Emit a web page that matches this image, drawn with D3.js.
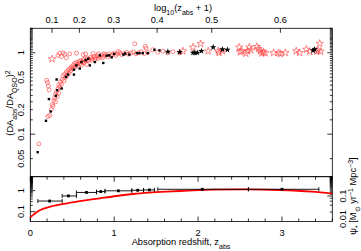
<!DOCTYPE html>
<html><head><meta charset="utf-8">
<script src="https://cdn.jsdelivr.net/npm/d3@7"></script>
<style>
html,body{margin:0;padding:0;background:#fff;}
svg{display:block;font-family:"Liberation Sans",Arial,Helvetica,sans-serif;}
</style></head>
<body>
<svg id="c" width="361" height="251"></svg>
<script>
// ---------- DATA ----------
const redCircles = [
 [0.103,0.076],[0.21,0.165],[0.195,0.46],[0.205,0.43],[0.215,0.39],[0.225,0.35],
 [0.23,0.17],[0.25,0.2],[0.26,0.23],[0.27,0.22],[0.28,0.26],[0.29,0.28],[0.30,0.25],[0.30,0.31],[0.31,0.33],[0.32,0.29],[0.33,0.36],[0.34,0.32],[0.34,0.4],[0.35,0.38],
 [0.36,0.44],[0.37,0.41],[0.38,0.47],[0.39,0.52],[0.40,0.45],[0.41,0.55],[0.42,0.5],[0.43,0.58],[0.44,0.53],[0.45,0.61],[0.46,0.56],[0.47,0.64],[0.48,0.6],[0.49,0.67],[0.50,0.63],
 [0.51,0.7],[0.52,0.66],[0.53,0.74],[0.54,0.69],[0.55,0.76],[0.56,0.72],[0.57,0.68],[0.58,0.78],[0.59,0.74],[0.60,0.8],[0.61,0.71],[0.62,0.77],[0.63,0.82],[0.64,0.75],[0.65,0.84],[0.66,0.79],[0.67,0.72],[0.68,0.86],[0.69,0.8],[0.70,0.83],
 [0.72,0.88],[0.73,0.81],[0.74,0.85],[0.76,0.9],[0.77,0.83],[0.78,0.87],[0.80,0.92],[0.81,0.85],[0.83,0.89],[0.85,0.94],[0.86,0.87],[0.88,0.91],[0.90,0.95],[0.92,0.89],[0.94,0.97],[0.96,0.92],[0.98,0.95],
 [1.00,0.99],[1.02,0.93],[1.04,0.97],[1.07,1.0],[1.09,0.95],[1.12,0.98],[1.15,1.01],[1.17,0.96],[1.20,0.99],[1.23,1.02],[1.26,0.97],[1.29,1.0],[1.32,1.03],[1.36,0.98],[1.40,1.01],
 [0.33,0.93],[0.35,0.99],[0.37,0.9],[0.39,1.0],[0.41,0.96],[0.43,0.87],[0.47,0.97],[0.55,0.99],[0.63,0.95],[0.66,0.97],[0.75,0.98],[0.81,0.97],[0.88,0.97],[1.05,1.04],
 [1.245,1.29],[1.37,1.2],[1.38,1.14],[1.46,1.09],[1.52,1.02],[1.58,1.05],[1.64,1.0],[1.70,1.03],[1.78,1.0]
];
const blackDots = [
 [0.088,0.06],[0.187,0.146],[0.243,0.19],[0.222,0.27],[0.305,0.296],[0.32,0.347],[0.314,0.47],[0.373,0.364],
 [0.425,0.504],[0.45,0.54],[0.52,0.54],[0.52,0.62],[0.55,0.70],[0.59,0.64],[0.61,0.77],[0.66,0.81],[0.69,0.845],
 [0.71,0.70],[0.77,0.77],[0.83,0.93],[0.87,0.75],[0.91,0.92],[0.94,0.93],[0.97,0.88],[1.0,0.97],[1.11,0.95],
 [1.13,0.98],[1.18,0.95],[1.27,0.99],[1.30,0.99],[1.34,0.99],[1.40,0.99],[1.48,1.09],[1.54,1.07]
];
const blackStars = [
 [1.64,1.03],[1.78,1.02],[1.94,1.0],[1.96,1.0],[1.99,1.0],[2.04,1.05],[2.18,1.17],[2.29,1.1],[2.35,1.09],[3.37,1.07],[3.39,1.1]
];
const redStars = [
 [0.26,0.84],[1.82,1.05],[1.94,1.17],[2.03,1.29],[2.12,1.05],[2.24,1.05],[2.25,1.0],[2.29,1.05],
 [2.49,1.17],[2.50,1.02],[2.52,1.05],[2.57,0.98],[2.59,1.05],[2.61,1.17],[2.63,1.08],[2.70,1.19],
 [2.72,1.12],[2.74,1.05],[2.76,0.99],[2.78,1.02],[2.80,0.99],[2.90,1.0],[2.96,1.0],[2.98,0.97],
 [3.04,1.0],[3.17,1.05],[3.21,1.0],[3.29,1.1],[3.33,1.03],[3.41,1.04],[3.43,1.07],[3.45,1.3],[3.46,1.04]
];
// binned points (bottom panel, left axis)
const binZ  = [0.23, 0.455, 0.67, 0.84, 1.05, 1.28, 1.42, 2.05, 3.0];
const binLo = [0.09, 0.38, 0.55, 0.79, 0.89, 1.21, 1.35, 1.52, 2.60];
const binHi = [0.38, 0.55, 0.79, 0.89, 1.21, 1.35, 1.48, 2.60, 3.44];
const binV  = [0.32, 0.56, 0.82, 0.9, 0.98, 1.04, 1.08, 1.16, 1.16];
// star-formation curve (bottom panel, right axis)
const sfrZ = [0, 0.02, 0.04, 0.08, 0.12, 0.24, 0.44, 0.63, 0.83, 1.03, 1.23, 1.42, 1.62, 1.78, 2.17, 2.57, 2.97, 3.36, 3.6];
const sfrV = [0.0119, 0.0137, 0.0158, 0.020, 0.0246, 0.0342, 0.0481, 0.0625, 0.0793, 0.100, 0.122, 0.139, 0.154, 0.165, 0.188, 0.194, 0.182, 0.154, 0.128];
// tick labels
const xTickLabels = [0, 1, 2, 3];
const topTickLabels = [0.1, 0.2, 0.3, 0.4, 0.5, 0.6];
const yTopLabels = [1, 0.5, 0.2, 0.1, 0.05];
const yBotLabels = [1, 0.1];
const yRightLabels = [0.01, 0.1];

// ---------- LAYOUT ----------
const L = 30.3, R = 332.3, T = 28.3, M = 176.7, B = 221.5;
const svg = d3.select("#c");
const x = d3.scaleLinear().domain([0, 3.6]).range([L, R]);
const yT = d3.scaleLog().domain([0.03, 2]).range([M, T]);
const yBL = d3.scaleLog().domain([0.034, 4.6]).range([B, M]);
const yBR = d3.scaleLog().domain([0.0078, 0.69]).range([B, M]);
const ink = "#000";
const fs = 9.3;

function minorLog(scale){
  const [a,b] = scale.domain();
  return scale.ticks(40).filter(v => v >= a*0.999 && v <= b*1.001);
}
function isMajor(v){ const l = Math.log10(v); return Math.abs(l - Math.round(l)) < 1e-6; }

const g = svg.append("g").attr("stroke", ink).attr("stroke-width", 0.8).attr("fill", "none");

// ---------- TOP PANEL DATA ----------
const pts = svg.append("g");
pts.selectAll("circle.rc").data(redCircles).join("circle")
  .attr("cx", d => x(d[0])).attr("cy", d => yT(d[1])).attr("r", 2.0)
  .attr("fill", "none").attr("stroke", "#ff3b3b").attr("stroke-width", 0.6);
const star = d3.symbol().type(d3.symbolStar).size(17);
pts.selectAll("path.rs").data(redStars).join("path")
  .attr("transform", d => `translate(${x(d[0])},${yT(d[1])})`)
  .attr("d", star).attr("fill", "none").attr("stroke", "#ff3b3b").attr("stroke-width", 0.6);
pts.selectAll("rect.bd").data(blackDots).join("rect")
  .attr("x", d => x(d[0]) - 1.2).attr("y", d => yT(d[1]) - 1.2).attr("width", 2.4).attr("height", 2.4)
  .attr("fill", "#000");
pts.selectAll("path.bs").data(blackStars).join("path")
  .attr("transform", d => `translate(${x(d[0])},${yT(d[1])})`)
  .attr("d", d3.symbol().type(d3.symbolStar).size(13)).attr("fill", "#000");

// ---------- BOTTOM PANEL DATA ----------
const line = d3.line().x(d => x(d[0])).y(d => yBR(d[1])).curve(d3.curveMonotoneX);
svg.append("path").datum(sfrZ.map((z,i) => [z, sfrV[i]]))
  .attr("d", line).attr("fill", "none").attr("stroke", "#ff0000").attr("stroke-width", 1.8);
const bins = binZ.map((z,i) => ({z, lo: binLo[i], hi: binHi[i], v: binV[i]}));
const eb = svg.append("g").attr("stroke", "#000").attr("stroke-width", 0.9);
bins.forEach(b => {
  const yy = yBL(b.v);
  eb.append("line").attr("x1", x(b.lo)).attr("x2", x(b.hi)).attr("y1", yy).attr("y2", yy);
  eb.append("line").attr("x1", x(b.lo)).attr("x2", x(b.lo)).attr("y1", yy-2).attr("y2", yy+2);
  eb.append("line").attr("x1", x(b.hi)).attr("x2", x(b.hi)).attr("y1", yy-2).attr("y2", yy+2);
  eb.append("rect").attr("x", x(b.z)-1.4).attr("y", yy-1.4).attr("width", 2.8).attr("height", 2.8).attr("fill", "#000").attr("stroke", "none");
});

// ---------- FRAMES ----------
g.append("rect").attr("x", L).attr("y", T).attr("width", R-L).attr("height", M-T);
g.append("rect").attr("x", L).attr("y", M).attr("width", R-L).attr("height", B-M);

// ---------- TICKS ----------
topTickLabels.forEach(t => {
  const xx = x(Math.pow(10, t) - 1);
  g.append("line").attr("x1", xx).attr("x2", xx).attr("y1", T).attr("y2", T+4.5);
});
d3.range(0, 3.61, 0.2).forEach(v => {
  const xx = x(v), maj = Math.abs(v - Math.round(v)) < 1e-6;
  const len = maj ? 5 : 3;
  g.append("line").attr("x1", xx).attr("x2", xx).attr("y1", B).attr("y2", B-len);
  g.append("line").attr("x1", xx).attr("x2", xx).attr("y1", M).attr("y2", M+len);
});
minorLog(yT).forEach(v => {
  const yy = yT(v), len = isMajor(v) ? 5 : 2.5;
  g.append("line").attr("x1", L).attr("x2", L+len).attr("y1", yy).attr("y2", yy);
  g.append("line").attr("x1", R).attr("x2", R-len).attr("y1", yy).attr("y2", yy);
});
minorLog(yBL).forEach(v => {
  const yy = yBL(v), len = isMajor(v) ? 5 : 2.5;
  g.append("line").attr("x1", L).attr("x2", L+len).attr("y1", yy).attr("y2", yy);
});
minorLog(yBR).forEach(v => {
  const yy = yBR(v), len = isMajor(v) ? 5 : 2.5;
  g.append("line").attr("x1", R).attr("x2", R-len).attr("y1", yy).attr("y2", yy);
});

// ---------- LABELS ----------
const txt = svg.append("g").attr("fill", "#000").attr("font-size", fs);
topTickLabels.forEach(t => {
  txt.append("text").attr("x", x(Math.pow(10, t) - 1)).attr("y", 23).attr("text-anchor", "middle").text(t.toFixed(1));
});
xTickLabels.forEach(t => {
  txt.append("text").attr("x", x(t)).attr("y", 235.5).attr("text-anchor", "middle").text(t);
});
function rotLabel(xx, yy, s){
  txt.append("text").attr("transform", `translate(${xx},${yy}) rotate(-90)`).attr("text-anchor", "middle").text(s);
}
yTopLabels.forEach(v => rotLabel(24, yT(v), String(v)));
yBotLabels.forEach(v => rotLabel(24, yBL(v), String(v)));
yRightLabels.forEach(v => rotLabel(346, yBR(v), String(v)));

const sub = (el, s, sz) => el.append("tspan").attr("baseline-shift", "sub").attr("font-size", sz || 7).text(s);
const sup = (el, s, sz) => el.append("tspan").attr("baseline-shift", "super").attr("font-size", sz || 7).text(s);
const plain = (el, s) => el.append("tspan").text(s);

let t1 = txt.append("text").attr("x", 183).attr("y", 11).attr("text-anchor", "middle");
plain(t1, "log"); sub(t1, "10"); plain(t1, "(z"); sub(t1, "abs"); plain(t1, " + 1)");

let t2 = txt.append("text").attr("x", 181).attr("y", 245).attr("text-anchor", "middle");
plain(t2, "Absorption redshift, z"); sub(t2, "abs");

let t3 = txt.append("text").attr("transform", "translate(12.5,103) rotate(-90)").attr("text-anchor", "middle");
plain(t3, "(DA"); sub(t3, "abs"); plain(t3, "/DA"); sub(t3, "QSO"); plain(t3, ")"); sup(t3, "2");

let t4 = txt.append("text").attr("transform", "translate(356,196) rotate(-90)").attr("text-anchor", "middle");
plain(t4, "ψ"); sub(t4, "*"); plain(t4, " [M"); sub(t4, "⊙"); plain(t4, " yr"); sup(t4, "−1"); plain(t4, " Mpc"); sup(t4, "−3"); plain(t4, "]");
</script>
</body></html>
